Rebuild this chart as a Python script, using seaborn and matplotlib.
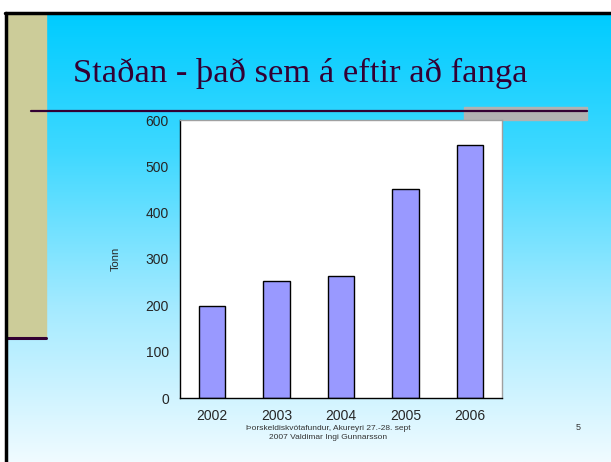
import numpy as np
import matplotlib.pyplot as plt
import matplotlib.patches as mpatches
from matplotlib.colors import LinearSegmentedColormap
import seaborn as sns

years = ['2002', '2003', '2004', '2005', '2006']
tonn = [198, 252, 264, 452, 547]
title = 'Staðan - það sem á eftir að fanga'
footer = 'Þorskeldiskvótafundur, Akureyri 27.-28. sept\n2007 Valdimar Ingi Gunnarsson'
page_no = '5'

sns.set_style('white')
plt.rcParams['font.family'] = ['Liberation Sans', 'DejaVu Sans']

fig = plt.figure(figsize=(6.11, 4.62), dpi=100)
fig.patch.set_facecolor('white')

# slide background (pixel coords)
bg = fig.add_axes([0, 0, 1, 1])
bg.set_xlim(0, 611)
bg.set_ylim(462, 0)
bg.axis('off')
cmap = LinearSegmentedColormap.from_list(
    'slide', [(0, '#00ccff'), (0.3, '#3dd8ff'), (0.65, '#a3eaff'), (1, '#f0fbff')])
grad = np.linspace(0, 1, 256).reshape(-1, 1)
bg.imshow(grad, cmap=cmap, aspect='auto', extent=(7, 611, 462, 14), zorder=0)
bg.add_patch(mpatches.Rectangle((7, 14), 39, 324, color='#cccc99', zorder=1))
bg.plot([7, 46], [338, 338], color='#330033', lw=2.2, zorder=2)
bg.plot([5, 611], [13, 13], color='black', lw=2.5, zorder=3)
bg.plot([6, 6], [13, 462], color='black', lw=2.5, zorder=3)
bg.add_patch(mpatches.Rectangle((464, 107), 123, 13, color='#b2b2b2', zorder=1))
bg.plot([31, 587], [111, 111], color='#330033', lw=1.6, zorder=2)
bg.text(73, 82, title, fontsize=24.8, color='#330033', family='Liberation Serif',
        ha='left', va='baseline')
bg.text(328, 433, footer, fontsize=6, color='#333333', ha='center', va='center',
        linespacing=1.45)
bg.text(578, 427, page_no, fontsize=6.5, color='#333333', ha='center', va='center')

# chart
W, H = 611, 462
ax = fig.add_axes([180 / W, 1 - 398 / H, (502 - 180) / W, (398 - 120) / H])
ax.set_facecolor('white')
sns.barplot(x=years, y=tonn, color='#9999ff', edgecolor='black', linewidth=1,
            width=0.41, saturation=1, ax=ax)
ax.set_xlim(-0.5, 4.5)
ax.set_ylim(0, 600)
ax.set_yticks(range(0, 601, 100))
ax.set_xticks(range(5))
ax.set_xticklabels(years)
ax.set_xticks(np.arange(-0.5, 5, 1), minor=True)
ax.tick_params(axis='x', which='major', length=0, labelsize=10, pad=8)
ax.tick_params(axis='x', which='minor', length=5, width=1, color='black', direction='out')
ax.tick_params(axis='y', length=5, width=1, color='black', direction='out', labelsize=10, pad=3)
ax.set_ylabel('Tonn', fontsize=8, labelpad=18)
ax.set_xlabel('')
for s in ['top', 'right']:
    ax.spines[s].set_color('#a0a0a0')
for s in ['left', 'bottom']:
    ax.spines[s].set_color('black')
for s in ax.spines.values():
    s.set_linewidth(1)
    s.set_visible(True)

fig.savefig('out.png', dpi=100)
